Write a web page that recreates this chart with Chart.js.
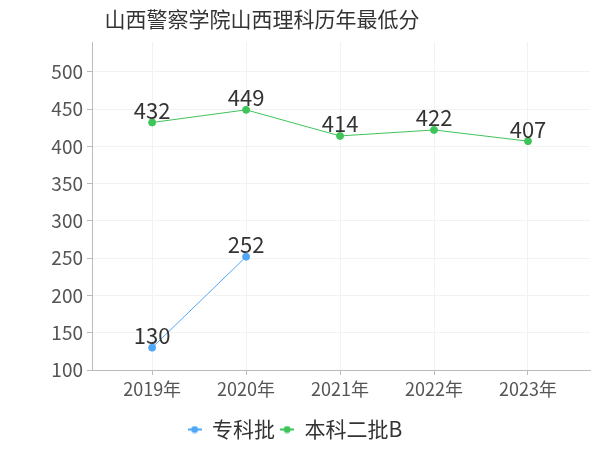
<!DOCTYPE html>
<html>
<head>
<meta charset="utf-8">
<script src="https://cdn.jsdelivr.net/npm/chart.js@4"></script>
<style>
  html, body { margin: 0; padding: 0; background: #fff; }
  #wrap { width: 600px; height: 450px; }
</style>
</head>
<body>
<div id="wrap"><canvas id="lineChart" width="600" height="450"></canvas></div>
<script>
// Chart data
const chartTitle = "山西警察学院山西理科历年最低分";
const years = ["2019年", "2020年", "2021年", "2022年", "2023年"];
const seriesNames = ["专科批", "本科二批B"];
const seriesColors = ["#4fa8f7", "#3fc45a"];
const zhuankeScores = [130, 252, null, null, null];
const benkeScores = [432, 449, 414, 422, 407];
const yTicks = [100, 150, 200, 250, 300, 350, 400, 450, 500];

const fontFamily = "'Noto Sans CJK SC', 'Noto Sans', sans-serif";

// Turn a list of scores into {x, y} points by year index
function toPoints(values) {
  return values.map((v, i) => ({ x: i, y: v }));
}

// Legend marker: short line with a dot in the middle
function legendMarker(color) {
  const c = document.createElement("canvas");
  c.width = 14;
  c.height = 8;
  const g = c.getContext("2d");
  g.strokeStyle = color;
  g.lineWidth = 2;
  g.beginPath();
  g.moveTo(0, 4);
  g.lineTo(14, 4);
  g.stroke();
  g.fillStyle = color;
  g.beginPath();
  g.arc(7, 4, 3.5, 0, Math.PI * 2);
  g.fill();
  return c;
}

// Draw the title off-centre like the reference
const titlePlugin = {
  id: "titleText",
  afterDraw(chart) {
    const ctx = chart.ctx;
    ctx.save();
    ctx.font = "21px " + fontFamily;
    ctx.fillStyle = "#333";
    ctx.textAlign = "center";
    ctx.textBaseline = "middle";
    ctx.fillText(chartTitle, 262, 19);
    ctx.restore();
  }
};

// Value labels above each point
const valueLabels = {
  id: "valueLabels",
  afterDatasetsDraw(chart) {
    const ctx = chart.ctx;
    ctx.save();
    ctx.font = "22px " + fontFamily;
    ctx.fillStyle = "#333";
    ctx.textAlign = "center";
    ctx.textBaseline = "bottom";
    chart.data.datasets.forEach((ds, di) => {
      const meta = chart.getDatasetMeta(di);
      meta.data.forEach((pt, i) => {
        const v = ds.data[i].y;
        if (v === null) return;
        ctx.fillText(String(v), pt.x, pt.y - 1);
      });
    });
    ctx.restore();
  }
};

const ctx = document.getElementById("lineChart").getContext("2d");
new Chart(ctx, {
  type: "line",
  data: {
    datasets: [
      {
        label: seriesNames[0],
        data: toPoints(zhuankeScores),
        borderColor: seriesColors[0],
        backgroundColor: seriesColors[0],
        borderWidth: 1,
        pointRadius: 3.5,
        pointHoverRadius: 3.5,
        pointStyle: "circle",
        spanGaps: false
      },
      {
        label: seriesNames[1],
        data: toPoints(benkeScores),
        borderColor: seriesColors[1],
        backgroundColor: seriesColors[1],
        borderWidth: 1,
        pointRadius: 3.5,
        pointHoverRadius: 3.5,
        pointStyle: "circle"
      }
    ]
  },
  options: {
    responsive: false,
    animation: false,
    layout: { padding: { top: 42, right: 10, left: 0, bottom: 0 } },
    plugins: {
      title: { display: false },
      tooltip: { enabled: false },
      legend: {
        position: "bottom",
        labels: {
          usePointStyle: true,
          pointStyleWidth: 14,
          boxHeight: 8,
          padding: 5,
          color: "#333",
          font: { family: fontFamily, size: 21 },
          generateLabels(chart) {
            return chart.data.datasets.map((ds, i) => ({
              text: ds.label,
              datasetIndex: i,
              pointStyle: legendMarker(seriesColors[i]),
              fontColor: "#333",
              lineWidth: 0,
              hidden: false
            }));
          }
        }
      }
    },
    scales: {
      x: {
        type: "linear",
        min: -0.64,
        max: 4.66,
        afterFit(scale) { scale.height = 44; },
        ticks: {
          stepSize: 1,
          includeBounds: false,
          color: "#555",
          font: { family: fontFamily, size: 18 },
          callback: (v) => years[v] || ""
        },
        grid: { color: "#f2f2f2", tickColor: "#bbb", tickLength: 5 },
        border: { color: "#bbb" }
      },
      y: {
        min: 100,
        max: 540,
        afterFit(scale) { scale.width = 92; },
        afterBuildTicks(scale) {
          scale.ticks = yTicks.map((v) => ({ value: v }));
        },
        ticks: {
          color: "#555",
          font: { family: fontFamily, size: 19 },
          padding: 4
        },
        grid: { color: "#f2f2f2", tickColor: "#bbb", tickLength: 5 },
        border: { color: "#bbb" }
      }
    }
  },
  plugins: [titlePlugin, valueLabels]
});
</script>
</body>
</html>
